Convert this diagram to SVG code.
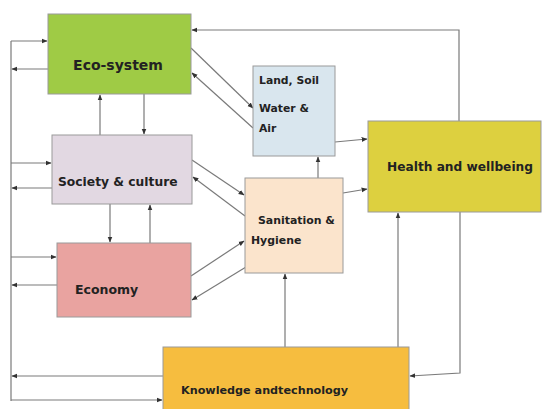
<svg xmlns="http://www.w3.org/2000/svg" width="549" height="409" viewBox="0 0 549 409">
<style>
.box{stroke:#9a9a9a;stroke-width:1}
.lbl{font-family:"DejaVu Sans","Liberation Sans",sans-serif;font-weight:bold;fill:#222222}
.ln{fill:none;stroke:#7a7a7a;stroke-width:1.2}
</style>
<defs>
<marker id="ah" viewBox="0 0 10 10" refX="9" refY="5" markerWidth="6" markerHeight="6" markerUnits="userSpaceOnUse" orient="auto">
<path d="M0,1 L10,5 L0,9 z" fill="#333"/>
</marker>
</defs>
<rect width="549" height="409" fill="#ffffff"/>
<g id="connectors">
<polyline class="ln" points="459,121 459,30 192,30" marker-end="url(#ah)"/>
<line class="ln" x1="191" y1="48" x2="253" y2="108" marker-end="url(#ah)"/>
<line class="ln" x1="253" y1="128" x2="192" y2="73" marker-end="url(#ah)"/>
<line class="ln" x1="100" y1="135" x2="100" y2="95" marker-end="url(#ah)"/>
<line class="ln" x1="144" y1="94" x2="144" y2="134" marker-end="url(#ah)"/>
<line class="ln" x1="11" y1="41" x2="11" y2="401"/>
<line class="ln" x1="11" y1="41" x2="47" y2="41" marker-end="url(#ah)"/>
<line class="ln" x1="48" y1="69" x2="12" y2="69" marker-end="url(#ah)"/>
<line class="ln" x1="11" y1="163" x2="51" y2="163" marker-end="url(#ah)"/>
<line class="ln" x1="52" y1="188" x2="12" y2="188" marker-end="url(#ah)"/>
<line class="ln" x1="11" y1="257" x2="56" y2="257" marker-end="url(#ah)"/>
<line class="ln" x1="57" y1="285" x2="12" y2="285" marker-end="url(#ah)"/>
<line class="ln" x1="163" y1="376" x2="12" y2="376" marker-end="url(#ah)"/>
<line class="ln" x1="11" y1="400" x2="162" y2="400" marker-end="url(#ah)"/>
<line class="ln" x1="110" y1="204" x2="110" y2="242" marker-end="url(#ah)"/>
<line class="ln" x1="150" y1="243" x2="150" y2="205" marker-end="url(#ah)"/>
<line class="ln" x1="192" y1="160" x2="244" y2="195" marker-end="url(#ah)"/>
<line class="ln" x1="245" y1="216" x2="193" y2="177" marker-end="url(#ah)"/>
<line class="ln" x1="191" y1="276" x2="244" y2="241" marker-end="url(#ah)"/>
<line class="ln" x1="246" y1="267" x2="192" y2="300" marker-end="url(#ah)"/>
<line class="ln" x1="318" y1="178" x2="318" y2="157" marker-end="url(#ah)"/>
<line class="ln" x1="335" y1="142" x2="367" y2="139" marker-end="url(#ah)"/>
<line class="ln" x1="343" y1="193" x2="367" y2="189" marker-end="url(#ah)"/>
<line class="ln" x1="285" y1="347" x2="285" y2="274" marker-end="url(#ah)"/>
<line class="ln" x1="398" y1="347" x2="398" y2="213" marker-end="url(#ah)"/>
<polyline class="ln" points="460,212 460,373 410,376" marker-end="url(#ah)"/>
</g>
<g id="eco">
<rect class="box" x="48" y="14" width="143" height="80" fill="#9fcb45"/>
<text class="lbl" x="118" y="70" font-size="14" text-anchor="middle">Eco-system</text>
</g>
<g id="society">
<rect class="box" x="52" y="135" width="140" height="69" fill="#e2d8e2"/>
<text class="lbl" x="58" y="186" font-size="12.3">Society &amp; culture</text>
</g>
<g id="economy">
<rect class="box" x="57" y="243" width="134" height="74" fill="#e9a3a0"/>
<text class="lbl" x="75" y="294" font-size="12.5">Economy</text>
</g>
<g id="land">
<rect class="box" x="253" y="66" width="82" height="90" fill="#d9e6ee"/>
<text class="lbl" x="259" y="84" font-size="10.8">Land, Soil</text>
<text class="lbl" x="259" y="112" font-size="10.8">Water &amp;</text>
<text class="lbl" x="259" y="132" font-size="10.8">Air</text>
</g>
<g id="sanitation">
<rect class="box" x="245" y="178" width="98" height="95" fill="#fbe4cc"/>
<text class="lbl" x="258" y="224" font-size="10.9">Sanitation &amp;</text>
<text class="lbl" x="251" y="244" font-size="10.9">Hygiene</text>
</g>
<g id="health">
<rect class="box" x="368" y="121" width="173" height="91" fill="#ddd03f"/>
<text class="lbl" x="460" y="171" font-size="12.2" text-anchor="middle">Health and wellbeing</text>
</g>
<g id="knowledge">
<rect class="box" x="163" y="347" width="246" height="66" fill="#f6bd3f"/>
<text class="lbl" x="181" y="394" font-size="11.2">Knowledge andtechnology</text>
</g>
</svg>
